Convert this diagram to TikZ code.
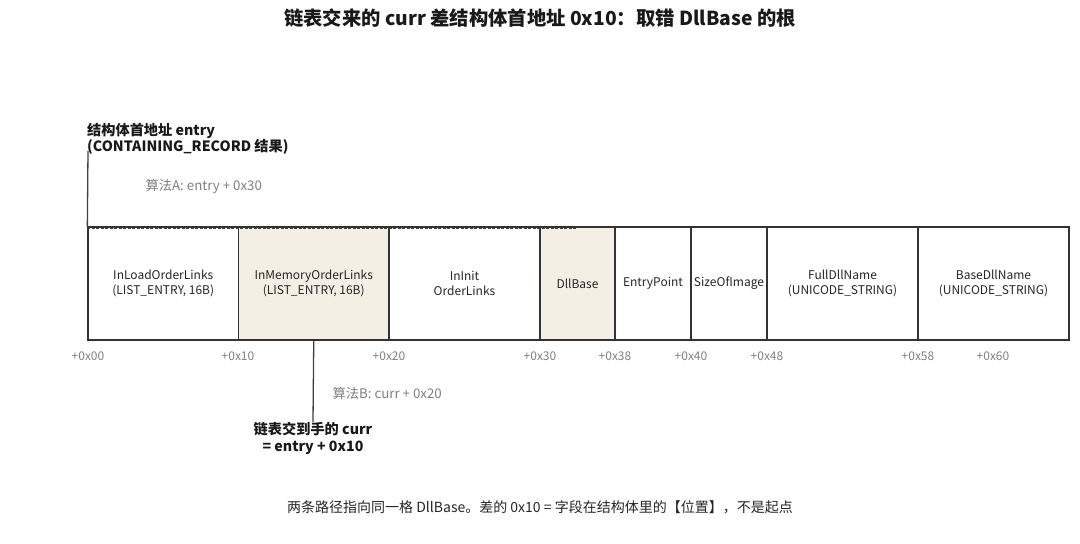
\documentclass[tikz,border=0pt]{standalone}
\usepackage{fontspec}
\setmainfont{Noto Sans CJK SC}
\begin{document}
\begin{tikzpicture}[x=1pt,y=-1pt,
  field/.style={draw=black!80,line width=1.3pt,minimum height=113pt,inner sep=0pt,align=center,font=\fontsize{12}{15}\selectfont,text=black!85},
  hot/.style={field,fill=hl},
  off/.style={text=black!50,font=\fontsize{12}{14}\selectfont},
  note/.style={text=black!50,font=\fontsize{13.3}{15}\selectfont,anchor=west},
  lab/.style={font=\bfseries\fontsize{14.2}{16.5}\selectfont,text=black!90,align=left},
  conn/.style={draw=black!75,line width=1.3pt}]
\definecolor{hl}{HTML}{F4EFE4}
\useasboundingbox (0,0) rectangle (1080,544);
\fill[white] (0,0) rectangle (1080,544);
% title
\node[font=\bfseries\fontsize{19.3}{22}\selectfont,text=black!90] (title) at (540,18) {链表交来的 curr 差结构体首地址 0x10：取错 DllBase 的根};
% fields
\node[field,minimum width=150.5pt] (f0) at (163.25,283.5) {InLoadOrderLinks\\(LIST\_ENTRY, 16B)};
\node[hot,minimum width=150.5pt] (f1) at (313.75,283.5) {InMemoryOrderLinks\\(LIST\_ENTRY, 16B)};
\node[field,minimum width=151pt] (f2) at (464.5,283.5) {InInit\\OrderLinks};
\node[hot,minimum width=75pt] (f3) at (577.5,283.5) {DllBase};
\node[field,minimum width=76pt] (f4) at (653,283.5) {EntryPoint};
\node[field,minimum width=76pt] (f5) at (729,283.5) {SizeOfImage};
\node[field,minimum width=151pt] (f6) at (842.5,283.5) {FullDllName\\(UNICODE\_STRING)};
\node[field,minimum width=151pt] (f7) at (993.5,283.5) {BaseDllName\\(UNICODE\_STRING)};
% offsets
\node[off] (o0) at (88,356) {+0x00};
\node[off] (o1) at (238,356) {+0x10};
\node[off] (o2) at (389,356) {+0x20};
\node[off] (o3) at (540,356) {+0x30};
\node[off] (o4) at (615,356) {+0x38};
\node[off] (o5) at (691,356) {+0x40};
\node[off] (o6) at (767,356) {+0x48};
\node[off] (o7) at (918,356) {+0x58};
\node[off] (o8) at (993,356) {+0x60};
% entry label
\node[lab,anchor=south west,inner sep=0pt] (entry) at (87,155) {结构体首地址 entry\\(CONTAINING\_RECORD 结果)};
\coordinate (entryfoot) at (88,151);
\draw[conn] (entryfoot) -- (f0.north west);
\node[note] (algA) at (142,186) {算法A: entry + 0x30};
\draw[conn,dashed,line width=1pt,dash pattern=on 3pt off 1.5pt] ([yshift=-2.5pt]f0.north west) -- ([yshift=-2.5pt]f3.north);
% curr label
\node[lab,align=center,anchor=north,inner sep=0pt] (curr) at (313,422) {链表交到手的 curr\\= entry + 0x10};
\draw[conn] (f1.south) -- (curr.north);
\node[note] (algB) at (329,393) {算法B: curr + 0x20};
% caption
\node[font=\fontsize{14}{16}\selectfont,text=black!85] (cap) at (540,507) {两条路径指向同一格 DllBase。差的 0x10 = 字段在结构体里的【位置】，不是起点};
\end{tikzpicture}
\end{document}
